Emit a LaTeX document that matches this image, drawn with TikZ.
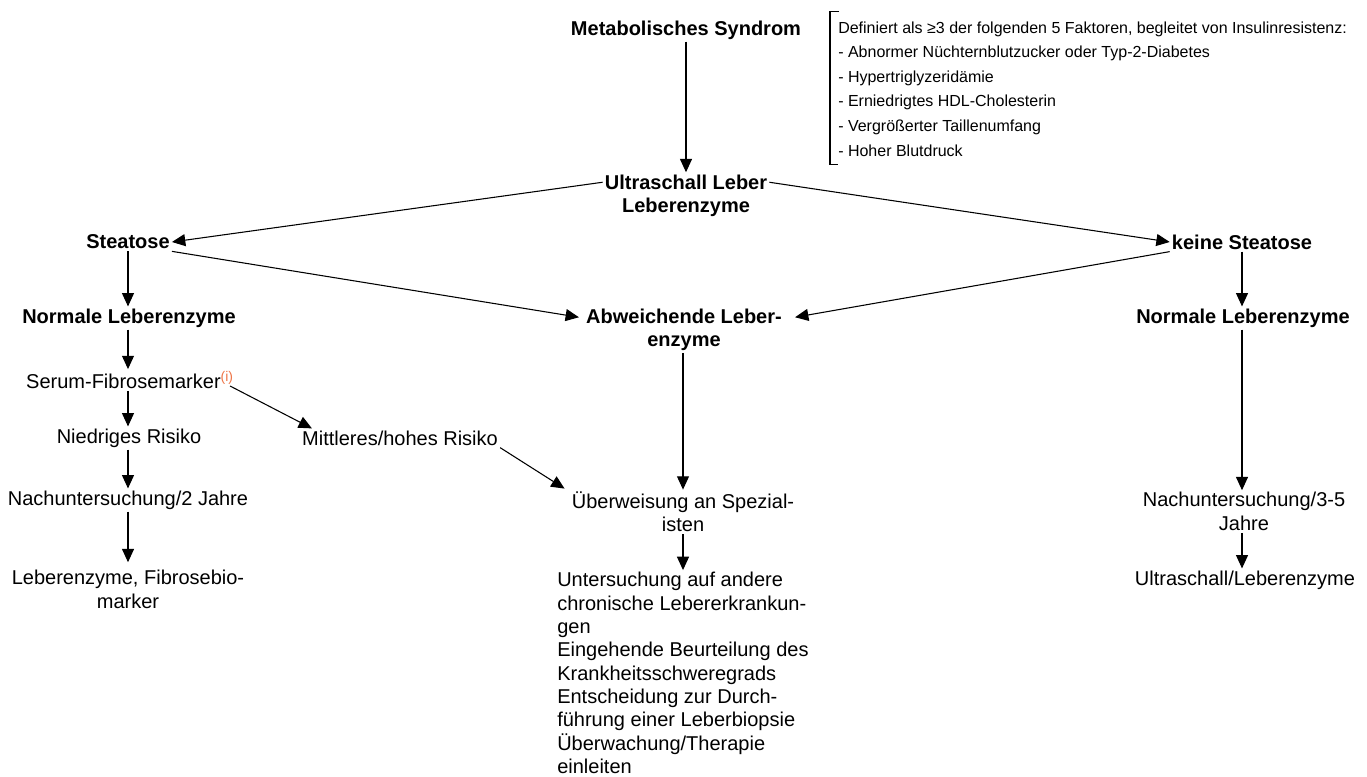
\documentclass[tikz,border=0pt]{standalone}
\usepackage{fontspec}
\setmainfont{Liberation Sans}
\usetikzlibrary{arrows.meta,calc}
\definecolor{supcol}{RGB}{238,118,72}
\begin{document}
\begin{tikzpicture}[x=0.75pt,y=-0.75pt,
  every node/.style={inner sep=1.5pt,font=\fontsize{15}{17.5}\selectfont},
  hd/.style={font=\fontsize{15}{17.5}\selectfont\bfseries,align=center},
  txt/.style={align=center},
  note/.style={font=\fontsize{12}{18.4}\selectfont,align=left,anchor=west,inner sep=0pt},
  arr/.style={-{Triangle[length=10pt,width=9pt]},line width=0.8pt},
  ln/.style={line width=0.8pt}]
\useasboundingbox (0,0) rectangle (1367,776);

% nodes
\node[hd] (ms) at (686,30) {Metabolisches Syndrom};
\node[note] (box) at (838,89) {Definiert als ≥3 der folgenden 5 Faktoren, begleitet von Insulinresistenz:\\
- Abnormer Nüchternblutzucker oder Typ-2-Diabetes\\
- Hypertriglyzeridämie\\
- Erniedrigtes HDL-Cholesterin\\
- Vergrößerter Taillenumfang\\
- Hoher Blutdruck};
\node[hd] (us) at (686,195.5) {Ultraschall Leber\\Leberenzyme};
\node[hd] (steat) at (128,242) {Steatose};
\node[hd] (kst) at (1242,242) {keine Steatose};
\node[hd] (nl) at (129,318) {Normale Leberenzyme};
\node[hd] (abw) at (684,329.5) {Abweichende Leber-\\enzyme};
\node[hd] (nr) at (1243,318) {Normale Leberenzyme};
\node (sf) at (130,380) {Serum-Fibrosemarker\textsuperscript{\textcolor{supcol}{(i)}}};
\node (nied) at (129,438) {Niedriges Risiko};
\node (mitt) at (400,438) {Mittleres/hohes Risiko};
\node (nach2) at (128,500) {Nachuntersuchung/2 Jahre};
\node[txt] (lfb) at (128,589.5) {Leberenzyme, Fibrosebio-\\marker};
\node[txt] (ueb) at (683,512) {Überweisung an Spezial-\\isten};
\node[align=left,anchor=west] (unt) at (555,673) {Untersuchung auf andere\\chronische Lebererkrankun-\\gen\\Eingehende Beurteilung des\\Krankheitsschweregrads\\Entscheidung zur Durch-\\führung einer Leberbiopsie\\Überwachung/Therapie\\einleiten};
\node[txt] (nach35) at (1244,511.5) {Nachuntersuchung/3-5\\Jahre};
\node (usl) at (1245,580) {Ultraschall/Leberenzyme};

% bracket beside the definition
\draw[ln] ($(box.north west)+(1,-10)$) -- ($(box.north west)+(-8,-10)$)
  -- ($(box.south west)+(-8,8)$) -- ($(box.south west)+(0,8)$);

% connectors
\draw[arr] (ms.south) -- (us.north);
\draw[arr] ($(us.north west)+(0,10)$) -- (steat.east);
\draw[arr] ($(us.north east)+(0,10)$) -- (kst.west);
\draw[arr] (steat.south east) -- ($(abw.north west)+(-5,11)$);
\draw[arr] (kst.south west) -- ($(abw.north east)+(11,11)$);
\draw[arr] (steat.south) -- (steat.south |- nl.north);
\draw[arr] (nl.south -| steat.south) -- (steat.south |- sf.north);
\draw[arr] (steat.south |- sf.south) -- (steat.south |- nied.north);
\draw[arr] ($(sf.east)+(-6,6)$) -- ($(mitt.north west)+(12,0)$);
\draw[arr] (mitt.south east) -- ($(ueb.north west)+(-5,-1)$);
\draw[arr] (steat.south |- nied.south) -- (steat.south |- nach2.north);
\draw[arr] (steat.south |- nach2.south) -- ($(steat.south |- lfb.north)+(0,-6)$);
\draw[arr] (abw.south -| ueb.north) -- (ueb.north);
\draw[arr] (ueb.south) -- (ueb.south |- unt.north);
\draw[arr] (kst.south) -- (kst.south |- nr.north);
\draw[arr] (nr.south -| kst.south) -- (kst.south |- nach35.north);
\draw[arr] (nach35.south -| kst.south) -- (kst.south |- usl.north);
\end{tikzpicture}
\end{document}
